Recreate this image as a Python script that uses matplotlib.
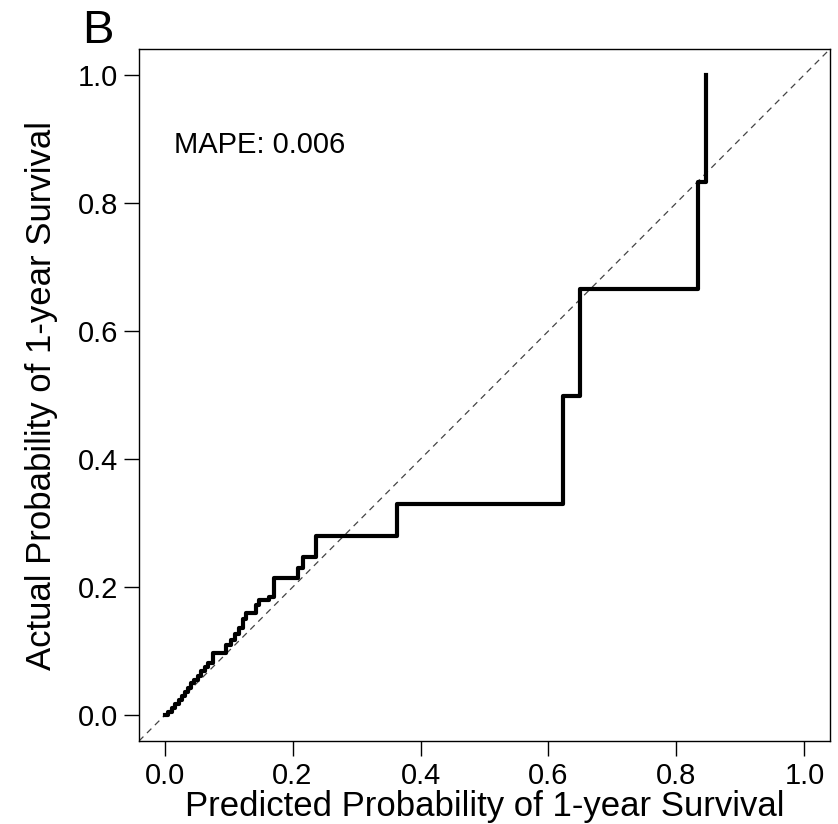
import matplotlib.pyplot as plt
import numpy as np

plt.rcParams['font.family'] = ['Liberation Sans', 'DejaVu Sans']

# 校准曲线的阶梯点 (predicted, actual)
pred = [0.000, 0.006, 0.012, 0.017, 0.022, 0.027, 0.032, 0.037, 0.041, 0.046,
        0.052, 0.057, 0.063, 0.068, 0.075, 0.091, 0.096, 0.104, 0.110, 0.117,
        0.122, 0.127, 0.138, 0.143, 0.148, 0.163, 0.171, 0.205, 0.208, 0.216,
        0.236, 0.363, 0.622, 0.649, 0.833, 0.846]
actual = [0.000, 0.006, 0.012, 0.018, 0.024, 0.030, 0.036, 0.043, 0.050, 0.055,
          0.062, 0.070, 0.075, 0.082, 0.097, 0.097, 0.110, 0.117, 0.127, 0.137,
          0.150, 0.160, 0.160, 0.172, 0.180, 0.185, 0.214, 0.214, 0.230, 0.247,
          0.280, 0.330, 0.499, 0.665, 0.833, 1.000]
ticks = [0.0, 0.2, 0.4, 0.6, 0.8, 1.0]
tick_labels = ['0.0', '0.2', '0.4', '0.6', '0.8', '1.0']
mape_text = 'MAPE: 0.006'

fig = plt.figure(figsize=(8.38, 8.24), dpi=100)
ax = fig.add_axes([139 / 838, 1 - 741 / 824, 691 / 838, 692 / 824])

ax.plot([-0.04, 1.04], [-0.04, 1.04], color='#444444', linestyle=(0, (5, 4)), linewidth=0.9)
ax.step(pred, actual, where='post', color='black', linewidth=3)

ax.set_xlim(-0.04, 1.04)
ax.set_ylim(-0.04, 1.04)
ax.set_xticks(ticks)
ax.set_xticklabels(tick_labels)
ax.set_yticks(ticks)
ax.set_yticklabels(tick_labels)
ax.tick_params(direction='out', length=11, width=1, labelsize=21, pad=4)
for s in ax.spines.values():
    s.set_linewidth(1)

ax.set_xlabel('Predicted Probability of 1-year Survival', fontsize=25, labelpad=0)
ax.set_ylabel('Actual Probability of 1-year Survival', fontsize=25, labelpad=14)
ax.text(0.015, 0.89, mape_text, fontsize=21, va='center', ha='left')
fig.text(82 / 838, 1 - 31 / 824, 'B', fontsize=34, va='center', ha='left')

fig.savefig('out.png', dpi=100)
